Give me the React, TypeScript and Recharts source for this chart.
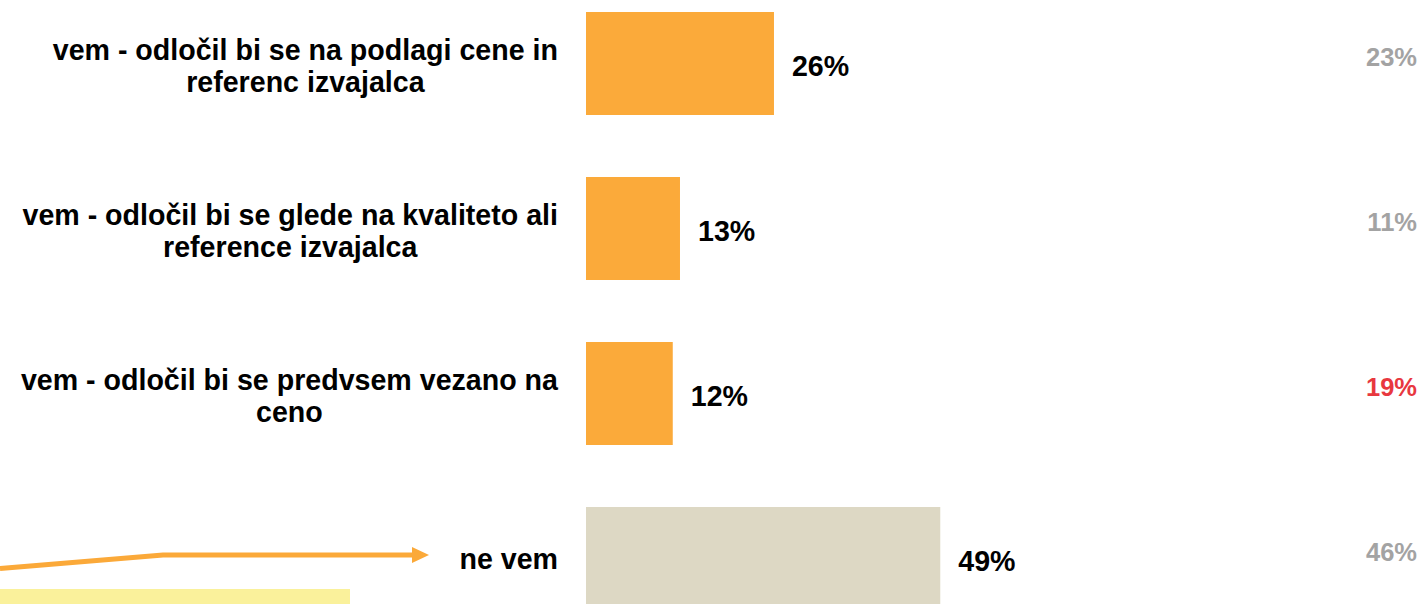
import React from 'react';
import { BarChart, Bar, XAxis, YAxis, Cell, LabelList } from 'recharts';

const categories = [
  'vem - odločil bi se na podlagi cene in referenc izvajalca',
  'vem - odločil bi se glede na kvaliteto ali reference izvajalca',
  'vem - odločil bi se predvsem vezano na ceno',
  'ne vem',
];
const currentValues = [26, 13, 12, 49];
const previousValues = [23, 11, 19, 46];
// previous value coloured red where it is highlighted
const previousHighlight = [false, false, true, false];

const WIDTH = 1423;
const FONT = '"Liberation Sans", Arial, sans-serif';
const LABEL_SIZE = 28.6;
const ORANGE = '#FBAA3A';
const BEIGE = '#DDD8C4';

const data = categories.map((name, i) => ({
  name,
  value: currentValues[i],
  prev: previousValues[i],
  highlight: previousHighlight[i],
}));

let ctx: CanvasRenderingContext2D | null = null;
function measure(text: string) {
  if (!ctx) ctx = document.createElement('canvas').getContext('2d');
  if (!ctx) return text.length * LABEL_SIZE * 0.55;
  ctx.font = `bold ${LABEL_SIZE}px ${FONT}`;
  return ctx.measureText(text).width;
}

// wrap a category label to fit the left column
function wrap(text: string, maxWidth: number) {
  const words = text.split(' ');
  const lines: string[] = [];
  let cur = '';
  words.forEach((w) => {
    const next = cur ? cur + ' ' + w : w;
    if (cur && measure(next) > maxWidth) {
      lines.push(cur);
      cur = w;
    } else {
      cur = next;
    }
  });
  if (cur) lines.push(cur);
  return lines;
}

const CategoryTick = (props: any) => {
  const { x, y, payload } = props;
  const lines = wrap(payload.value, 550);
  const blockWidth = Math.max(...lines.map(measure));
  const cx = x - blockWidth / 2;
  const lineHeight = 32;
  const top = y - ((lines.length - 1) * lineHeight) / 2;
  const shift = lines.length > 1 ? 12.5 : 10;
  return (
    <g>
      {lines.map((line, i) => (
        <text
          key={i}
          x={cx}
          y={top + i * lineHeight + shift}
          textAnchor="middle"
          fill="#000"
          fontFamily={FONT}
          fontWeight="bold"
          fontSize={LABEL_SIZE}
        >
          {line}
        </text>
      ))}
    </g>
  );
};

const ValueLabel = (props: any) => {
  const { x, y, width, height, value } = props;
  return (
    <text
      x={x + width + 18}
      y={y + height / 2 + 12}
      fill="#000"
      fontFamily={FONT}
      fontWeight="bold"
      fontSize={LABEL_SIZE}
    >
      {`${value}%`}
    </text>
  );
};

const PrevLabel = (props: any) => {
  const { y, height, value, index } = props;
  return (
    <text
      x={WIDTH - 6}
      y={y + height / 2 + 2}
      textAnchor="end"
      fill={previousHighlight[index] ? '#E8383F' : '#A3A3A3'}
      fontFamily={FONT}
      fontWeight="bold"
      fontSize={25.5}
    >
      {`${value}%`}
    </text>
  );
};

export default function App() {
  return (
    <div
      style={{
        position: 'absolute',
        left: 0,
        top: 0,
        width: WIDTH,
        height: 604,
        overflow: 'hidden',
        background: '#fff',
      }}
    >
      <div style={{ position: 'absolute', left: 0, top: -19 }}>
        <BarChart
          width={WIDTH}
          height={660}
          data={data}
          layout="vertical"
          margin={{ top: 0, right: 114, left: 0, bottom: 0 }}
        >
          <XAxis type="number" domain={[0, 100]} hide />
          <YAxis
            type="category"
            dataKey="name"
            width={586}
            axisLine={false}
            tickLine={false}
            tickSize={0}
            tickMargin={28}
            tick={<CategoryTick />}
            interval={0}
          />
          <Bar dataKey="value" barSize={103} isAnimationActive={false}>
            {data.map((d, i) => (
              <Cell key={i} fill={i === data.length - 1 ? BEIGE : ORANGE} />
            ))}
            <LabelList dataKey="value" content={<ValueLabel />} />
            <LabelList dataKey="prev" content={<PrevLabel />} />
          </Bar>
        </BarChart>
      </div>
      {/* annotation at bottom left */}
      <svg
        width={WIDTH}
        height={604}
        style={{ position: 'absolute', left: 0, top: 0, pointerEvents: 'none' }}
      >
        <rect x={0} y={589} width={350} height={15} fill="#FAF19B" />
        <polyline
          points="0,568.5 163,555 415,555"
          fill="none"
          stroke="#FBA939"
          strokeWidth={5}
        />
        <polygon points="412,547 429,555 412,563" fill="#FBA939" />
      </svg>
    </div>
  );
}
